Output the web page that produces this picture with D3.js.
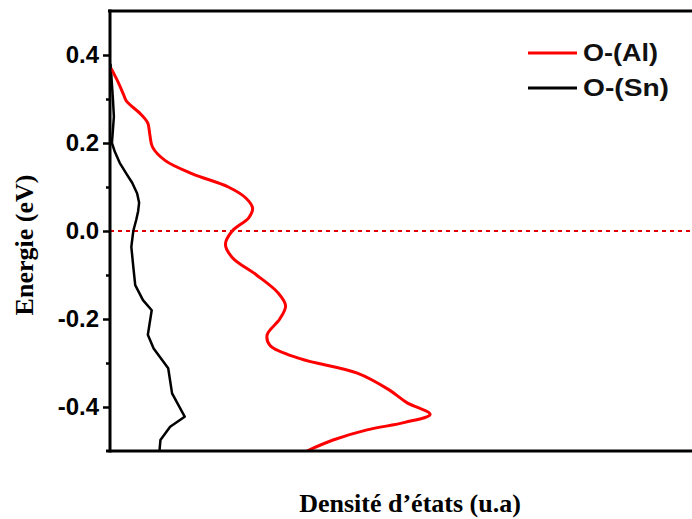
<!DOCTYPE html>
<html>
<head>
<meta charset="utf-8">
<script src="https://cdn.jsdelivr.net/npm/d3@7"></script>
<style>
  html, body { margin: 0; padding: 0; background: #fff; }
  svg { display: block; }
</style>
</head>
<body>
<svg id="chart" width="692" height="519"></svg>
<script>
// ---- data ----
const seriesNames = ["O-(Al)", "O-(Sn)"];
const seriesColors = ["#ff0000", "#000000"];

const energyAl = [0.37, 0.34, 0.31, 0.295, 0.265, 0.245, 0.22, 0.19, 0.16, 0.13, 0.1, 0.075, 0.052, 0.03, 0.0, -0.03, -0.06, -0.1, -0.14, -0.17, -0.2, -0.236, -0.26, -0.29, -0.323, -0.36, -0.39, -0.417, -0.435, -0.452, -0.475, -0.5];
const dosAl = [0.01, 0.08, 0.14, 0.17, 0.32, 0.39, 0.41, 0.44, 0.57, 0.85, 1.22, 1.40, 1.47, 1.43, 1.26, 1.19, 1.26, 1.51, 1.73, 1.81, 1.75, 1.62, 1.65, 1.96, 2.55, 2.87, 3.06, 3.30, 3.04, 2.65, 2.30, 2.03];

const energySn = [0.38, 0.35, 0.3, 0.26, 0.23, 0.2, 0.18, 0.155, 0.13, 0.109, 0.085, 0.064, 0.045, 0.025, 0.0, -0.036, -0.081, -0.123, -0.157, -0.18, -0.236, -0.267, -0.312, -0.369, -0.422, -0.445, -0.475, -0.5];
const dosSn = [0.005, 0.015, 0.03, 0.04, 0.03, 0.02, 0.05, 0.10, 0.17, 0.23, 0.28, 0.30, 0.29, 0.27, 0.24, 0.22, 0.24, 0.26, 0.34, 0.43, 0.39, 0.45, 0.60, 0.64, 0.77, 0.62, 0.52, 0.51];

const fermiLevel = 0.0;
const majorTicks = [-0.4, -0.2, 0.0, 0.2, 0.4];
const majorTickLabels = ["-0.4", "-0.2", "0.0", "0.2", "0.4"];
const minorTicks = [-0.3, -0.1, 0.1, 0.3];
const yTitle = "Energie (eV)";
const xTitle = "Densité d’états (u.a)";

// ---- layout ----
const svg = d3.select("#chart");
const W = 692, H = 519;
const mLeft = 110, mRight = 692, mTop = 11, mBottom = 451;

const x = d3.scaleLinear().domain([0, 6]).range([mLeft, mRight]);
const y = d3.scaleLinear().domain([-0.5, 0.5]).range([mBottom, mTop]);

svg.append("defs").append("clipPath").attr("id", "plotclip")
  .append("rect").attr("x", mLeft).attr("y", mTop).attr("width", mRight - mLeft).attr("height", mBottom - mTop);

const plot = svg.append("g").attr("clip-path", "url(#plotclip)");

// Fermi level dashed line
plot.append("line")
  .attr("x1", x(0)).attr("x2", x(6))
  .attr("y1", y(fermiLevel)).attr("y2", y(fermiLevel))
  .attr("stroke", "#e00000").attr("stroke-width", 2)
  .attr("stroke-dasharray", "4,4");

const seriesData = [
  energyAl.map((e, i) => ({e, d: dosAl[i]})),
  energySn.map((e, i) => ({e, d: dosSn[i]}))
];

const lineAl = d3.line().x(p => x(p.d)).y(p => y(p.e)).curve(d3.curveCatmullRom.alpha(0.5));
const lineSn = d3.line().x(p => x(p.d)).y(p => y(p.e)).curve(d3.curveLinear);

plot.append("path").datum(seriesData[1])
  .attr("d", lineSn).attr("fill", "none")
  .attr("stroke", seriesColors[1]).attr("stroke-width", 2.5)
  .attr("stroke-linejoin", "round");

plot.append("path").datum(seriesData[0])
  .attr("d", lineAl).attr("fill", "none")
  .attr("stroke", seriesColors[0]).attr("stroke-width", 3)
  .attr("stroke-linejoin", "round");

// ---- axes ----
const axisStroke = 3;

svg.append("line").attr("x1", mLeft - 2).attr("x2", W).attr("y1", y(0.5)).attr("y2", y(0.5))
  .attr("stroke", "#000").attr("stroke-width", axisStroke);
svg.append("line").attr("x1", mLeft - 4).attr("x2", W).attr("y1", y(-0.5)).attr("y2", y(-0.5))
  .attr("stroke", "#000").attr("stroke-width", axisStroke);

const minorAxis = d3.axisLeft(y).tickValues(minorTicks).tickSize(4).tickFormat("");
const gMinor = svg.append("g").attr("transform", `translate(${mLeft},0)`).call(minorAxis);
gMinor.select(".domain").remove();
gMinor.selectAll(".tick line").attr("stroke", "#000").attr("stroke-width", 2.5);

const majorAxis = d3.axisLeft(y).tickValues(majorTicks).tickSize(7).tickPadding(4)
  .tickFormat((d, i) => majorTickLabels[i]);
const gMajor = svg.append("g").attr("transform", `translate(${mLeft},0)`).call(majorAxis);
gMajor.select(".domain").remove();
gMajor.selectAll(".tick line").attr("stroke", "#000").attr("stroke-width", 2.5);
gMajor.selectAll(".tick text")
  .attr("font-family", "Liberation Sans, Arial, sans-serif")
  .attr("font-weight", "bold")
  .attr("font-size", 24)
  .attr("fill", "#000");

svg.append("line").attr("x1", mLeft).attr("x2", mLeft).attr("y1", y(0.5) - 1.5).attr("y2", y(-0.5) + 1.5)
  .attr("stroke", "#000").attr("stroke-width", axisStroke);

// ---- titles ----
svg.append("text")
  .attr("transform", "translate(33,245) rotate(-90)")
  .attr("text-anchor", "middle")
  .attr("font-family", "Liberation Serif, Times New Roman, serif")
  .attr("font-weight", "bold")
  .attr("font-size", 26)
  .attr("fill", "#000")
  .text(yTitle);

svg.append("text")
  .attr("x", 410).attr("y", 512)
  .attr("text-anchor", "middle")
  .attr("font-family", "Liberation Serif, Times New Roman, serif")
  .attr("font-weight", "bold")
  .attr("font-size", 26)
  .attr("fill", "#000")
  .text(xTitle);

// ---- legend ----
const legendY = [53, 88];
const legendW = [75, 86];
seriesNames.forEach((name, i) => {
  svg.append("line")
    .attr("x1", 528).attr("x2", 577)
    .attr("y1", legendY[i]).attr("y2", legendY[i])
    .attr("stroke", seriesColors[i]).attr("stroke-width", 3);
  svg.append("text")
    .attr("x", 583).attr("y", legendY[i] + 8)
    .attr("font-family", "Liberation Sans, Arial, sans-serif")
    .attr("font-weight", "bold")
    .attr("font-size", 23)
    .attr("textLength", legendW[i])
    .attr("lengthAdjust", "spacingAndGlyphs")
    .attr("fill", "#111")
    .text(name);
});
</script>
</body>
</html>
